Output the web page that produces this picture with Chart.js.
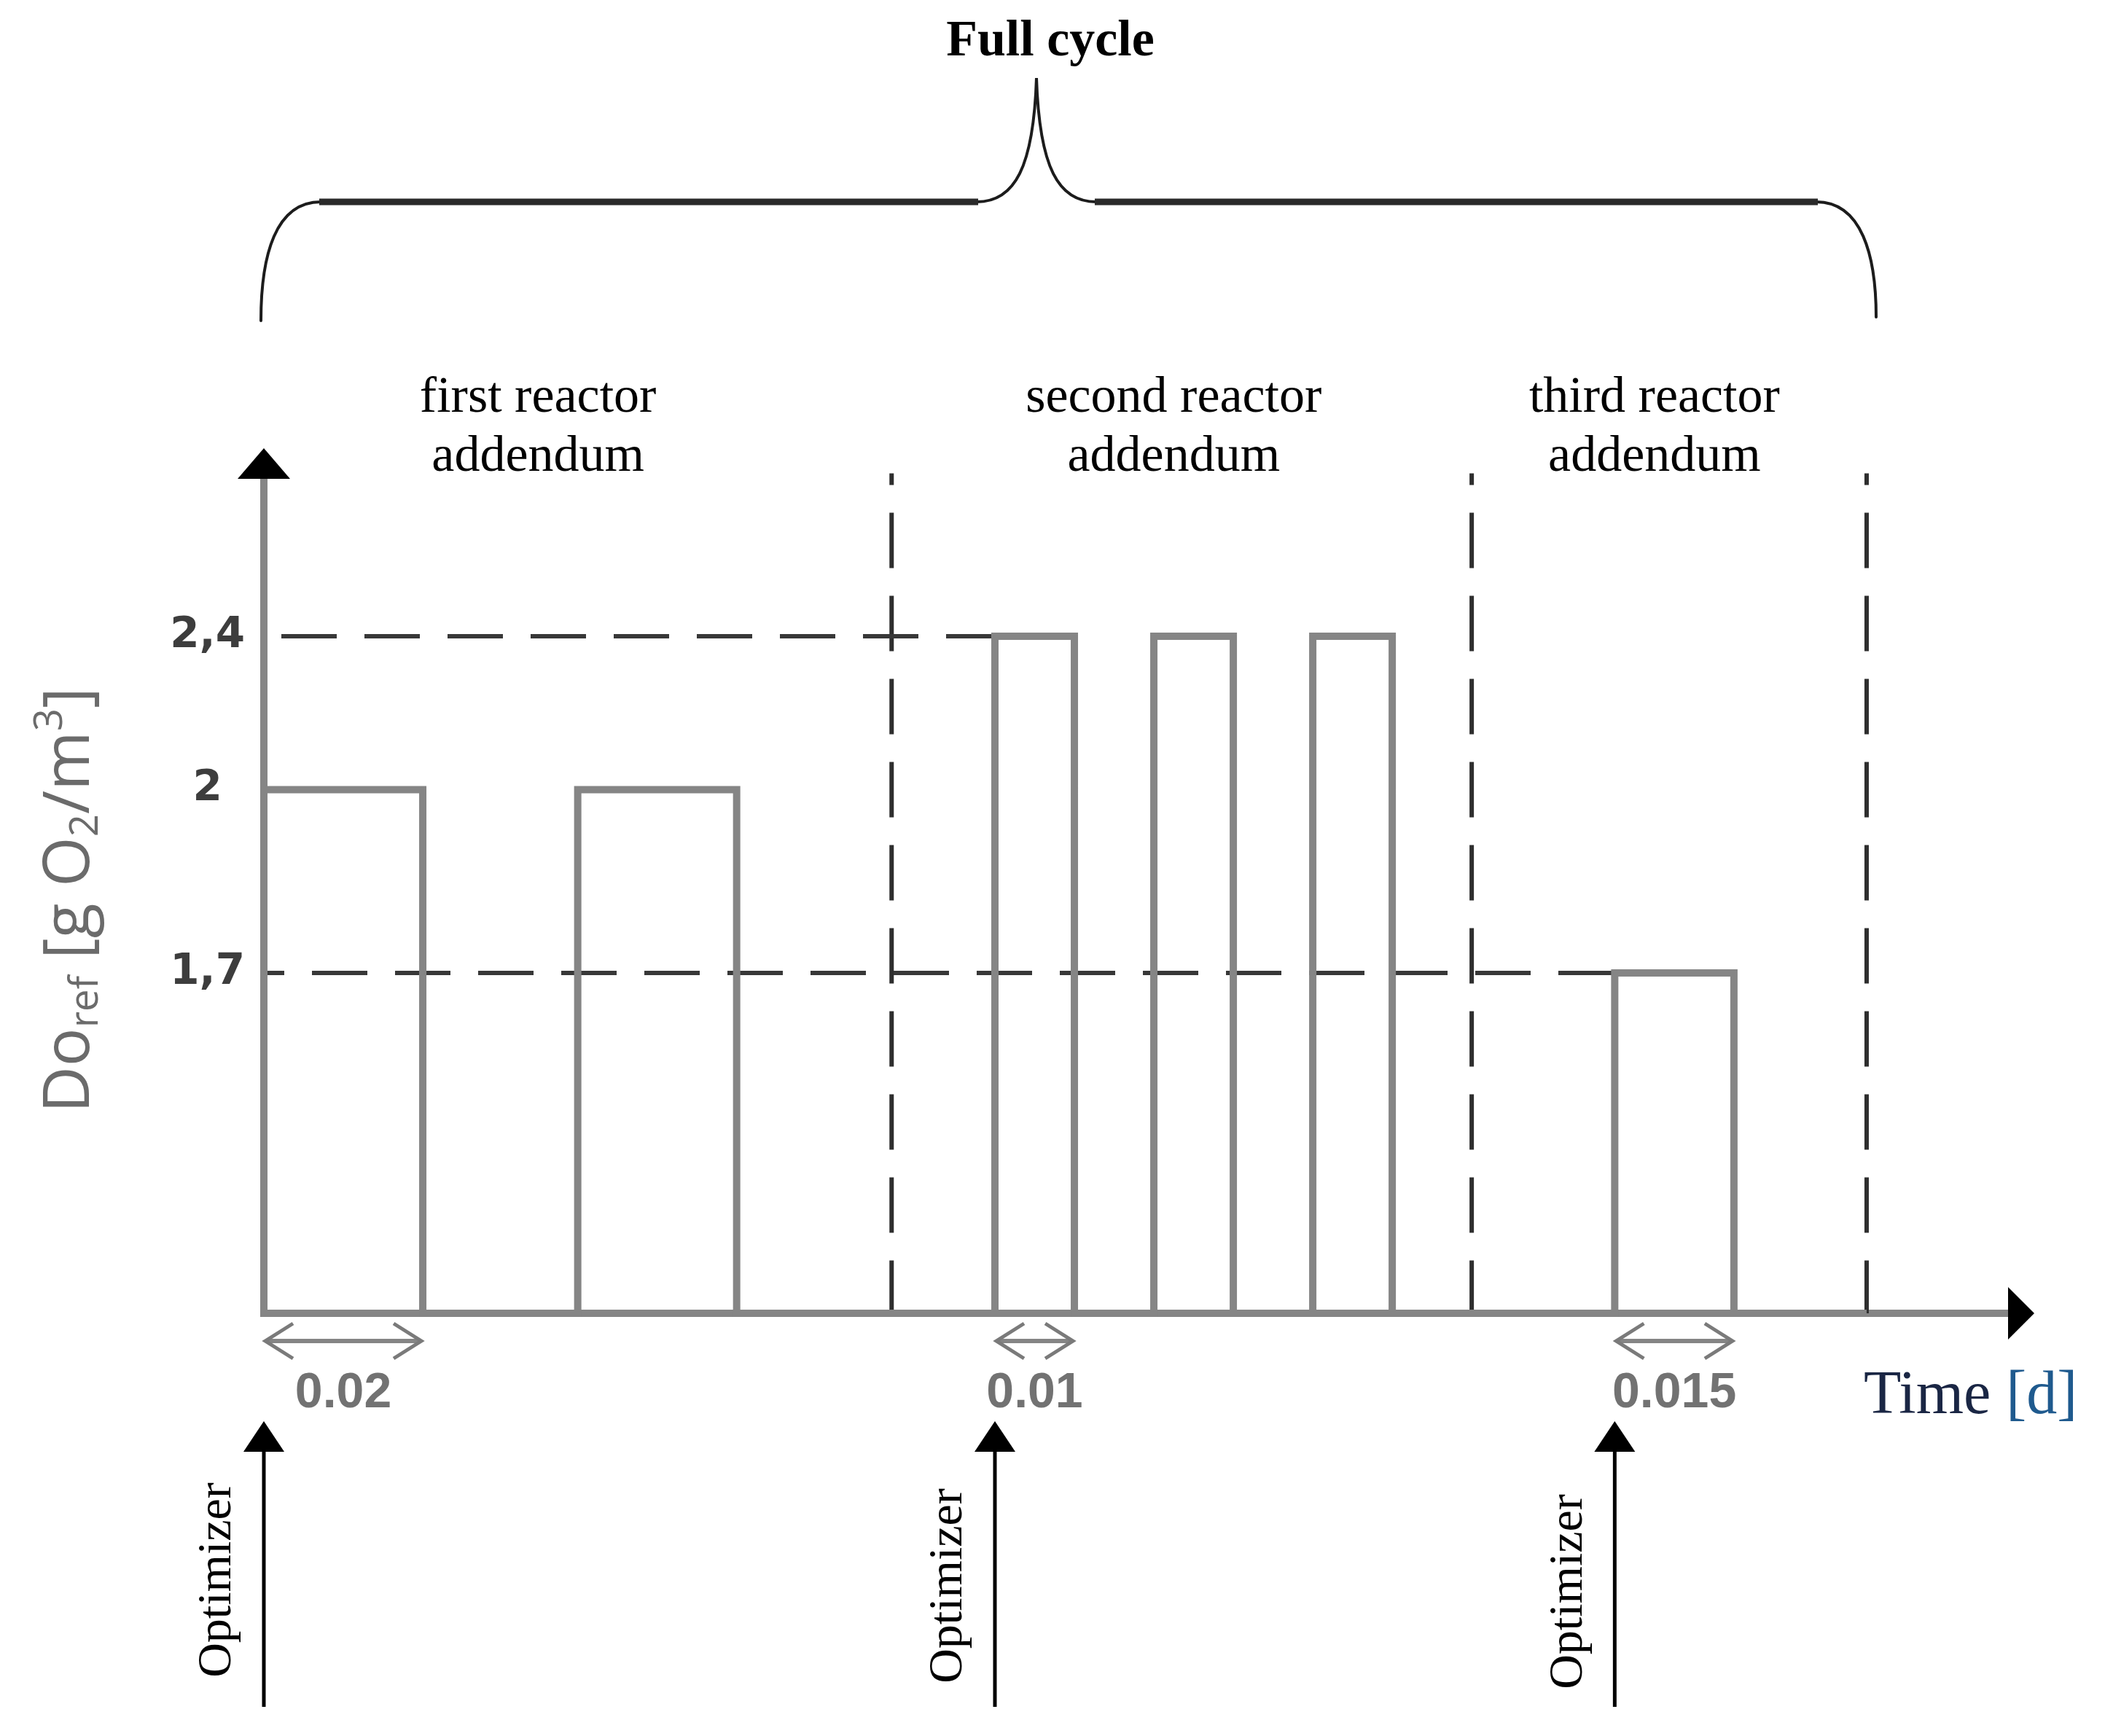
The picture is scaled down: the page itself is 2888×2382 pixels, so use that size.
<!DOCTYPE html>
<html>
<head>
<meta charset="utf-8">
<script src="https://cdn.jsdelivr.net/npm/chart.js@4.4.1/dist/chart.umd.min.js"></script>
<style>
  html, body { margin: 0; padding: 0; background: #fff; }
  canvas { display: block; }
</style>
</head>
<body>
<canvas id="doChart" width="2888" height="2382"></canvas>
<script>
// DO set-point profile (time in days, DO in g O2/m3)
const stepTimes  = [0, 0, 0.02, 0.0395, 0.0595, 0.092, 0.102, 0.112, 0.122, 0.132, 0.142, 0.170, 0.185, 0.2017];
const stepLevels = [0, 2, 0,    2,      0,      2.4,   0,     2.4,   0,     2.4,   0,     1.7,   0,     0];

// dashed reference levels and where they stop
const refLevels = [2.4, 1.7];
const refEnds = [0.092, 0.170];

// reactor boundaries
const dividerTimes = [0.079, 0.152, 0.2017];
const dividerTop = 2.92;

const reactorLabels = [
    ["first reactor", "addendum"],
    ["second reactor", "addendum"],
    ["third reactor", "addendum"]
];
const reactorLabelTimes = [0.0345, 0.1145, 0.175];

// optimizer calls and the pulse lengths they set
const optimizerTimes = [0, 0.092, 0.170];
const pulseWidths = [0.02, 0.01, 0.015];
const widthLabels = ["0.02", "0.01", "0.015"];

const yTicks = [1.7, 2, 2.4];
const yMax = 3;
const xMax = 0.2228;

// the drawing is schematic: levels are not to scale, so the y axis is warped
const yWarp = [[0, 0], [1.7, 0.3934], [2, 0.6054], [2.4, 0.7826], [3, 1]];

function warp(v) {
    for (let i = 1; i < yWarp.length; i++) {
        const [v0, d0] = yWarp[i - 1];
        const [v1, d1] = yWarp[i];
        if (v <= v1 || i === yWarp.length - 1) {
            return d0 + (v - v0) / (v1 - v0) * (d1 - d0);
        }
    }
    return 0;
}

function unwarp(d) {
    for (let i = 1; i < yWarp.length; i++) {
        const [v0, d0] = yWarp[i - 1];
        const [v1, d1] = yWarp[i];
        if (d <= d1 || i === yWarp.length - 1) {
            return v0 + (d - d0) / (d1 - d0) * (v1 - v0);
        }
    }
    return 0;
}

class WarpScale extends Chart.LinearScale {
    static id = "warp";
    static defaults = {};

    getPixelForValue(value) {
        if (value === null || value === undefined) return NaN;
        return this.getPixelForDecimal(warp(value));
    }

    getValueForPixel(pixel) {
        return unwarp(this.getDecimalForPixel(pixel));
    }
}
Chart.register(WarpScale);

const GREY = "#858585";

function richText(ctx, runs, size, family, color) {
    let x = 0;
    runs.forEach(r => {
        const s = r.sub || r.sup ? size * 0.62 : size;
        ctx.font = s + "px " + family;
        ctx.fillStyle = r.color || color;
        const dy = r.sub ? size * 0.14 : (r.sup ? -size * 0.42 : 0);
        ctx.fillText(r.t, x, dy);
        x += ctx.measureText(r.t).width;
    });
}

const schematic = {
    id: "schematic",

    beforeDatasetsDraw(chart) {
        const { ctx, chartArea: a } = chart;
        ctx.save();
        ctx.strokeStyle = GREY;
        ctx.lineWidth = 10;
        ctx.beginPath();
        ctx.moveTo(a.left, a.bottom + 5);
        ctx.lineTo(a.left, a.top + 40);
        ctx.moveTo(a.left - 5, a.bottom);
        ctx.lineTo(a.right - 32, a.bottom);
        ctx.stroke();
        ctx.restore();
    },

    afterDraw(chart) {
        const { ctx, chartArea: a, scales: { x } } = chart;
        ctx.save();

        // axis arrow heads
        ctx.fillStyle = "#000";
        ctx.beginPath();
        ctx.moveTo(a.left, a.top);
        ctx.lineTo(a.left + 36, a.top + 42);
        ctx.lineTo(a.left - 36, a.top + 42);
        ctx.closePath();
        ctx.fill();
        ctx.beginPath();
        ctx.moveTo(a.right, a.bottom);
        ctx.lineTo(a.right - 36, a.bottom - 36);
        ctx.lineTo(a.right - 36, a.bottom + 36);
        ctx.closePath();
        ctx.fill();

        // pulse length arrows and labels
        optimizerTimes.forEach((t, i) => {
            const x0 = x.getPixelForValue(t);
            const x1 = x.getPixelForValue(t + pulseWidths[i]);
            const y = a.bottom + 38;
            ctx.strokeStyle = GREY;
            ctx.lineWidth = 6;
            ctx.beginPath();
            ctx.moveTo(x0 + 4, y);
            ctx.lineTo(x1 - 4, y);
            ctx.stroke();
            ctx.strokeStyle = "#7a7a7a";
            ctx.lineWidth = 5;
            ctx.beginPath();
            ctx.moveTo(x0 + 40, y - 24);
            ctx.lineTo(x0 + 2, y);
            ctx.lineTo(x0 + 40, y + 24);
            ctx.moveTo(x1 - 40, y - 24);
            ctx.lineTo(x1 - 2, y);
            ctx.lineTo(x1 - 40, y + 24);
            ctx.stroke();

            ctx.fillStyle = "#727272";
            ctx.font = "bold 68px 'Liberation Sans'";
            ctx.textAlign = "center";
            ctx.textBaseline = "middle";
            ctx.fillText(widthLabels[i], (x0 + x1) / 2, a.bottom + 110);

            // optimizer arrow
            ctx.strokeStyle = "#000";
            ctx.fillStyle = "#000";
            ctx.lineWidth = 5;
            ctx.beginPath();
            ctx.moveTo(x0, 2342);
            ctx.lineTo(x0, 1985);
            ctx.stroke();
            ctx.beginPath();
            ctx.moveTo(x0, 1950);
            ctx.lineTo(x0 + 28, 1992);
            ctx.lineTo(x0 - 28, 1992);
            ctx.closePath();
            ctx.fill();

            ctx.save();
            ctx.translate(x0 - 63, 2168 + i * 8);
            ctx.rotate(-Math.PI / 2);
            ctx.font = "66px 'Liberation Serif'";
            ctx.textAlign = "center";
            ctx.textBaseline = "middle";
            ctx.fillText("Optimizer", 0, 0);
            ctx.restore();
        });

        // reactor labels
        ctx.fillStyle = "#000";
        ctx.font = "70px 'Liberation Serif'";
        ctx.textAlign = "center";
        ctx.textBaseline = "alphabetic";
        reactorLabels.forEach((lines, i) => {
            const cx = x.getPixelForValue(reactorLabelTimes[i]);
            ctx.fillText(lines[0], cx, a.top - 50);
            ctx.fillText(lines[1], cx, a.top + 31);
        });

        // full cycle brace
        ctx.strokeStyle = "#1c1c1c";
        ctx.lineCap = "round";
        ctx.lineWidth = 4;
        ctx.beginPath();
        ctx.moveTo(358, 440);
        ctx.bezierCurveTo(358, 350, 378, 277, 440, 277);
        ctx.moveTo(1340, 277);
        ctx.bezierCurveTo(1392, 277, 1418, 230, 1422, 107);
        ctx.bezierCurveTo(1426, 230, 1452, 277, 1504, 277);
        ctx.moveTo(2492, 277);
        ctx.bezierCurveTo(2554, 277, 2574, 350, 2574, 435);
        ctx.stroke();
        ctx.lineWidth = 9;
        ctx.lineCap = "butt";
        ctx.strokeStyle = "#2a2a2a";
        ctx.beginPath();
        ctx.moveTo(438, 277);
        ctx.lineTo(1342, 277);
        ctx.moveTo(1502, 277);
        ctx.lineTo(2494, 277);
        ctx.stroke();

        ctx.font = "bold 70px 'Liberation Serif'";
        ctx.fillText("Full cycle", 1441, 76);

        // time axis title
        ctx.textAlign = "left";
        ctx.save();
        ctx.translate(2557, 1939);
        richText(ctx, [
            { t: "Time ", color: "#1a2644" },
            { t: "[d]", color: "#1f5a8e" }
        ], 84, "'Liberation Serif'", "#1a2644");
        ctx.restore();

        // DO axis title
        ctx.save();
        ctx.translate(122, 1527);
        ctx.rotate(-Math.PI / 2);
        richText(ctx, [
            { t: "Do" },
            { t: "ref", sub: true },
            { t: " [g O" },
            { t: "2", sub: true },
            { t: "/m" },
            { t: "3", sup: true },
            { t: "]" }
        ], 88, "'Open Sans'", "#6b6b6b");
        ctx.restore();

        ctx.restore();
    }
};

const profile = stepTimes.map((t, i) => ({ x: t, y: stepLevels[i] }));

const refSets = refLevels.map((lvl, i) => ({
    data: [{ x: 0, y: lvl }, { x: refEnds[i], y: lvl }],
    borderColor: "#383838",
    borderWidth: 6,
    borderDash: [76, 38],
    borderDashOffset: i === 0 ? 90 : 48,
    pointRadius: 0,
    clip: false
}));

const dividerSets = dividerTimes.map(t => ({
    data: [{ x: t, y: dividerTop }, { x: t, y: 0 }],
    borderColor: "#2e2e2e",
    borderWidth: 6,
    borderDash: [76, 38],
    borderDashOffset: 60,
    pointRadius: 0,
    clip: false
}));

new Chart(document.getElementById("doChart"), {
    type: "line",
    data: {
        datasets: [
            {
                data: profile,
                stepped: true,
                borderColor: GREY,
                borderWidth: 10,
                borderJoinStyle: "miter",
                pointRadius: 0,
                clip: false
            },
            ...refSets,
            ...dividerSets
        ]
    },
    options: {
        responsive: false,
        devicePixelRatio: 1,
        animation: false,
        layout: {
            padding: { left: 162, top: 615, right: 97, bottom: 580 }
        },
        plugins: {
            legend: { display: false },
            tooltip: { enabled: false }
        },
        scales: {
            x: {
                type: "linear",
                min: 0,
                max: xMax,
                display: false
            },
            y: {
                type: "warp",
                min: 0,
                max: yMax,
                grid: { display: false },
                border: { display: false },
                afterBuildTicks: scale => {
                    scale.ticks = yTicks.map(v => ({ value: v }));
                },
                afterFit: scale => {
                    scale.width = 200;
                },
                ticks: {
                    padding: 18,
                    crossAlign: "center",
                    color: "#3d3d3d",
                    font: { family: "DejaVu Sans", size: 58, weight: "bold" },
                    callback: v => String(v).replace(".", ",")
                }
            }
        }
    },
    plugins: [schematic]
});
</script>
</body>
</html>
